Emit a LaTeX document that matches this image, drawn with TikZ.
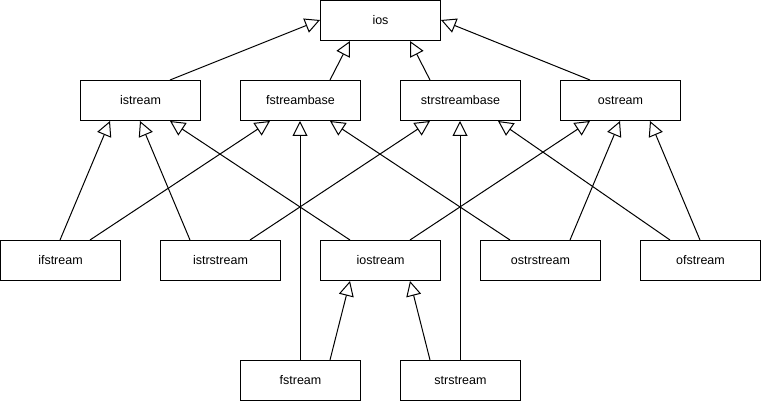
\documentclass[tikz,border=0pt]{standalone}
\usepackage{fontspec}
\setmainfont{Liberation Sans}
\usetikzlibrary{arrows.meta}
\begin{document}
\begin{tikzpicture}[x=1pt,y=-1pt,
  cls/.style={draw=black,line width=1pt,fill=white,minimum width=120pt,minimum height=40pt,inner sep=0pt,anchor=north west,font=\fontsize{12.5}{14}\selectfont},
  inh/.style={draw=black,line width=1pt,-{Triangle[open,length=15pt,width=15pt]}}]
\useasboundingbox (0,0) rectangle (761,401);
\node[cls] (ios) at (320,0) {ios};
\node[cls] (istream) at (80,80) {istream};
\node[cls] (fstreambase) at (240,80) {fstreambase};
\node[cls] (strstreambase) at (400,80) {strstreambase};
\node[cls] (ostream) at (560,80) {ostream};
\node[cls] (ifstream) at (0,240) {ifstream};
\node[cls] (istrstream) at (160,240) {istrstream};
\node[cls] (iostream) at (320,240) {iostream};
\node[cls] (ostrstream) at (480,240) {ostrstream};
\node[cls] (ofstream) at (640,240) {ofstream};
\node[cls] (fstream) at (240,360) {fstream};
\node[cls] (strstream) at (400,360) {strstream};
% to ios
\draw[inh] ([xshift=90pt]istream.north west) -- ([yshift=-20pt]ios.north west);
\draw[inh] ([xshift=90pt]fstreambase.north west) -- ([xshift=30pt]ios.south west);
\draw[inh] ([xshift=30pt]strstreambase.north west) -- ([xshift=90pt]ios.south west);
\draw[inh] ([xshift=30pt]ostream.north west) -- ([yshift=-20pt]ios.north east);
% row 3
\draw[inh] ([xshift=60pt]ifstream.north west) -- ([xshift=30pt]istream.south west);
\draw[inh] ([xshift=90pt]ifstream.north west) -- ([xshift=30pt]fstreambase.south west);
\draw[inh] ([xshift=30pt]istrstream.north west) -- ([xshift=60pt]istream.south west);
\draw[inh] ([xshift=90pt]istrstream.north west) -- ([xshift=30pt]strstreambase.south west);
\draw[inh] ([xshift=30pt]iostream.north west) -- ([xshift=90pt]istream.south west);
\draw[inh] ([xshift=90pt]iostream.north west) -- ([xshift=30pt]ostream.south west);
\draw[inh] ([xshift=30pt]ostrstream.north west) -- ([xshift=90pt]fstreambase.south west);
\draw[inh] ([xshift=90pt]ostrstream.north west) -- ([xshift=60pt]ostream.south west);
\draw[inh] ([xshift=30pt]ofstream.north west) -- ([xshift=98pt]strstreambase.south west);
\draw[inh] ([xshift=60pt]ofstream.north west) -- ([xshift=90pt]ostream.south west);
% row 4
\draw[inh] ([xshift=60pt]fstream.north west) -- ([xshift=60pt]fstreambase.south west);
\draw[inh] ([xshift=90pt]fstream.north west) -- ([xshift=30pt]iostream.south west);
\draw[inh] ([xshift=60pt]strstream.north west) -- ([xshift=60pt]strstreambase.south west);
\draw[inh] ([xshift=30pt]strstream.north west) -- ([xshift=90pt]iostream.south west);
\end{tikzpicture}
\end{document}
